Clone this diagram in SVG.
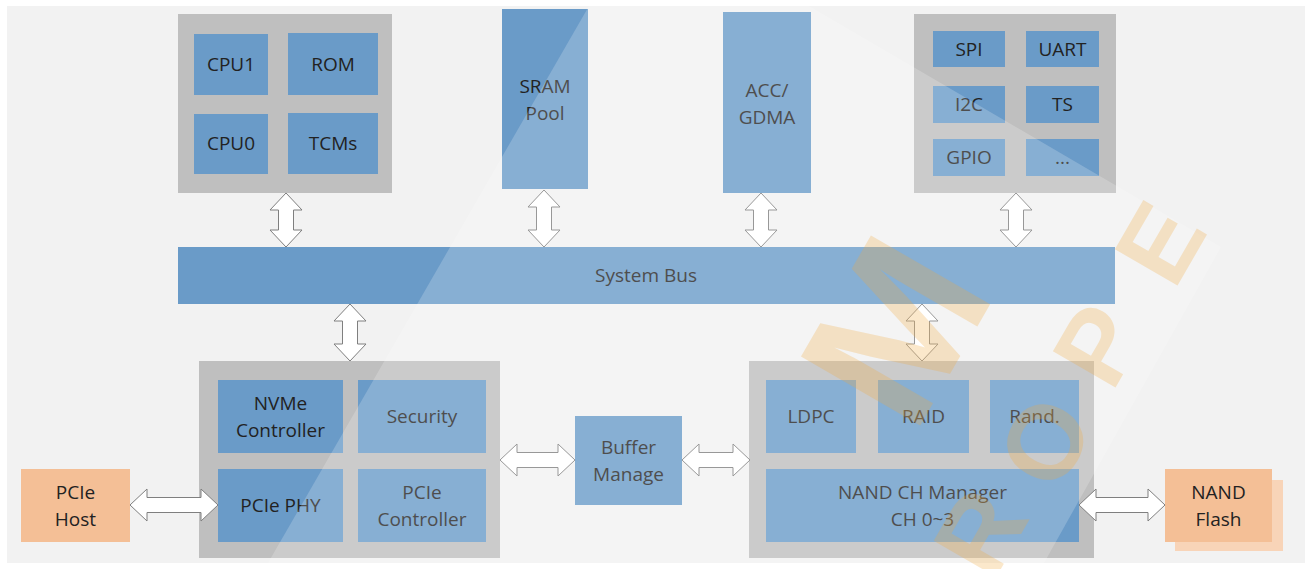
<svg xmlns="http://www.w3.org/2000/svg" width="1305" height="569" viewBox="0 0 1305 569">
<style>
.grp{fill:#bfbfbf}
.blk{fill:#6a9bc8}
.org{fill:#f4bf96}
.t{font-family:"Open Sans","Liberation Sans",sans-serif;font-size:19px;fill:#222222;text-anchor:middle}
.arr{fill:#ffffff;stroke:#7f7f7f;stroke-width:1;stroke-linejoin:miter}
.wm{font-family:"Liberation Sans",sans-serif;font-weight:bold;fill:#f2a93b;opacity:0.26;text-anchor:middle;dominant-baseline:central}
</style>
<rect x="0" y="0" width="1305" height="569" fill="#ffffff"/>
<rect x="7" y="6" width="1298" height="557" fill="#f2f2f2"/>

<g id="cpu-group">
<rect class="grp" x="178" y="14" width="214" height="179"/>
<g id="cpu1"><rect class="blk" x="194" y="34" width="74" height="61"/><text class="t" x="231" y="71">CPU1</text></g>
<g id="rom"><rect class="blk" x="288" y="33" width="90" height="62"/><text class="t" x="333" y="71">ROM</text></g>
<g id="cpu0"><rect class="blk" x="194" y="114" width="74" height="60"/><text class="t" x="231" y="150">CPU0</text></g>
<g id="tcms"><rect class="blk" x="288" y="113" width="90" height="61"/><text class="t" x="333" y="150">TCMs</text></g>
</g>

<g id="sram"><rect class="blk" x="502" y="9" width="86" height="180"/><text class="t" x="545" y="93">SRAM</text><text class="t" x="545" y="120">Pool</text></g>

<g id="acc"><rect class="blk" x="723" y="12" width="88" height="181"/><text class="t" x="767" y="97">ACC/</text><text class="t" x="767" y="124">GDMA</text></g>

<g id="periph-group">
<rect class="grp" x="914" y="14" width="202" height="179"/>
<g id="spi"><rect class="blk" x="933" y="31" width="72" height="36"/><text class="t" x="969" y="56">SPI</text></g>
<g id="uart"><rect class="blk" x="1026" y="31" width="73" height="36"/><text class="t" x="1062.5" y="56">UART</text></g>
<g id="i2c"><rect class="blk" x="933" y="86" width="72" height="37"/><text class="t" x="969" y="111">I2C</text></g>
<g id="ts"><rect class="blk" x="1026" y="86" width="73" height="37"/><text class="t" x="1062.5" y="111">TS</text></g>
<g id="gpio"><rect class="blk" x="933" y="139" width="72" height="37"/><text class="t" x="969" y="164">GPIO</text></g>
<g id="more"><rect class="blk" x="1026" y="139" width="73" height="37"/><text class="t" x="1062.5" y="164">...</text></g>
</g>

<g id="bus"><rect class="blk" x="178" y="247" width="937" height="57"/><text class="t" x="646" y="282">System Bus</text></g>

<g id="host-group">
<rect class="grp" x="199" y="361" width="301" height="197"/>
<g id="nvme"><rect class="blk" x="218" y="380" width="125" height="73"/><text class="t" x="280.5" y="410">NVMe</text><text class="t" x="280.5" y="437">Controller</text></g>
<g id="security"><rect class="blk" x="358" y="380" width="128" height="73"/><text class="t" x="422" y="423">Security</text></g>
<g id="pcie-phy"><rect class="blk" x="218" y="469" width="125" height="73"/><text class="t" x="280.5" y="512">PCIe PHY</text></g>
<g id="pcie-ctrl"><rect class="blk" x="358" y="469" width="128" height="73"/><text class="t" x="422" y="499">PCIe</text><text class="t" x="422" y="526">Controller</text></g>
</g>

<g id="pcie-host"><rect class="org" x="21" y="469" width="109" height="73"/><text class="t" x="75.5" y="499">PCIe</text><text class="t" x="75.5" y="526">Host</text></g>

<g id="buffer"><rect class="blk" x="575" y="416" width="107" height="89"/><text class="t" x="628.5" y="454">Buffer</text><text class="t" x="628.5" y="481">Manage</text></g>

<g id="nand-group">
<rect class="grp" x="749" y="361" width="345" height="197"/>
<g id="ldpc"><rect class="blk" x="766" y="380" width="90" height="73"/><text class="t" x="811" y="423">LDPC</text></g>
<g id="raid"><rect class="blk" x="878" y="380" width="91" height="73"/><text class="t" x="923.5" y="423">RAID</text></g>
<g id="rand"><rect class="blk" x="990" y="380" width="89" height="73"/><text class="t" x="1034.5" y="423">Rand.</text></g>
<g id="nand-ch"><rect class="blk" x="766" y="469" width="313" height="73"/><text class="t" x="922.5" y="499">NAND CH Manager</text><text class="t" x="922.5" y="526">CH 0~3</text></g>
</g>

<g id="nand-flash"><rect x="1175" y="480" width="108" height="71" fill="#f8d4b8"/><rect class="org" x="1165" y="469" width="107" height="73"/><text class="t" x="1218.5" y="499">NAND</text><text class="t" x="1218.5" y="526">Flash</text></g>

<g id="connectors">
<path class="arr" d="M286,193 L302,210 L293.5,210 L293.5,230 L302,230 L286,247 L270,230 L278.5,230 L278.5,210 L270,210 Z"/>
<path class="arr" d="M544,190 L560,207 L551.5,207 L551.5,230 L560,230 L544,247 L528,230 L536.5,230 L536.5,207 L528,207 Z"/>
<path class="arr" d="M761,193 L777,210 L768.5,210 L768.5,230 L777,230 L761,247 L745,230 L753.5,230 L753.5,210 L745,210 Z"/>
<path class="arr" d="M1016,193 L1032,210 L1023.5,210 L1023.5,230 L1032,230 L1016,247 L1000,230 L1008.5,230 L1008.5,210 L1000,210 Z"/>
<path class="arr" d="M350,304 L366,321 L357.5,321 L357.5,344 L366,344 L350,361 L334,344 L342.5,344 L342.5,321 L334,321 Z"/>
<path class="arr" d="M922,304 L938,321 L929.5,321 L929.5,344 L938,344 L922,361 L906,344 L914.5,344 L914.5,321 L906,321 Z"/>
<path class="arr" d="M130,505 L147,489 L147,497.5 L201,497.5 L201,489 L218,505 L201,521 L201,512.5 L147,512.5 L147,521 Z"/>
<path class="arr" d="M500,460 L517,444 L517,452.5 L558,452.5 L558,444 L575,460 L558,476 L558,467.5 L517,467.5 L517,476 Z"/>
<path class="arr" d="M682,460 L699,444 L699,452.5 L733,452.5 L733,444 L750,460 L733,476 L733,467.5 L699,467.5 L699,476 Z"/>
<path class="arr" d="M1079,505 L1096,489 L1096,497.5 L1148,497.5 L1148,489 L1165,505 L1148,521 L1148,512.5 L1096,512.5 L1096,521 Z"/>
</g>

<polygon points="589,6 809,6 1221,247 1044,563 268,563" fill="#ffffff" opacity="0.2"/>

<g id="watermark">
<text class="wm" font-size="200" x="895" y="330" transform="rotate(-60 895 330)">M</text>
<text class="wm" font-size="105" x="980" y="532" transform="rotate(-60 980 532)">R</text>
<text class="wm" font-size="105" x="1045" y="442" transform="rotate(-60 1045 442)">O</text>
<text class="wm" font-size="105" x="1098" y="345" transform="rotate(-60 1098 345)">P</text>
<text class="wm" font-size="105" x="1160" y="243" transform="rotate(-60 1160 243)">E</text>
</g>
</svg>
